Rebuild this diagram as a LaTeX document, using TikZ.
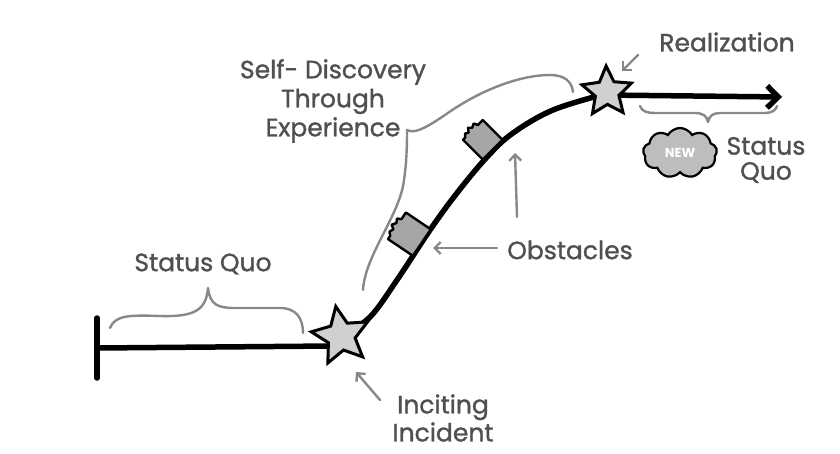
\documentclass[tikz,border=0pt]{standalone}
\usepackage{fontspec}
\setmainfont{Poppins}
\newfontfamily\handfont[FakeBold=1.2]{Poppins}
\usetikzlibrary{shapes.geometric,shapes.symbols,arrows.meta,calc}
\definecolor{annot}{HTML}{888888}
\definecolor{txt}{HTML}{505050}
\definecolor{starfill}{HTML}{D0D0D0}
\definecolor{obsfill}{HTML}{A6A6A6}
\definecolor{cloudfill}{HTML}{BDBDBD}
\begin{document}
\begin{tikzpicture}[x=1pt,y=-1pt,
 mainline/.style={line width=5.5pt,line cap=round,line join=round},
 annot/.style={draw=annot,line width=2.4pt,line cap=round,line join=round},
 garrow/.style={annot,-{Straight Barb[length=6pt,width=12pt]}},
 lbl/.style={text=txt,font=\handfont\fontsize{25}{28}\selectfont,align=center,inner sep=0pt},
 starnode/.style={star,star points=5,star point ratio=2.1,fill=starfill,draw=black,line width=3pt,minimum size=#1,inner sep=0pt},
 obstacle/.style={fill=obsfill,draw=black,line width=2.4pt,line join=round},
]
\useasboundingbox (0,0) rectangle (840,453);
\fill[white] (0,0) rectangle (840,453);

% fixed points
\coordinate (barTop) at (97,318);
\coordinate (barBot) at (97,378);
\coordinate (barMid) at (97,348);
\coordinate (lineL) at (332,346);
\coordinate (arrowStart) at (605,95);
\coordinate (arrowEnd) at (782,97);

% main timeline
\draw[mainline] (barTop) -- (barBot);
\draw[mainline] (barMid) -- (lineL);
\draw[mainline] plot[smooth,tension=0.6] coordinates {(343,335) (370,317) (397,280) (430,230) (457,193) (487,157) (513,133) (553,110) (605,94)};
\draw[mainline,-{Straight Barb[length=11pt,width=22pt]}] (arrowStart) -- (arrowEnd);

% obstacles
\begin{scope}[shift={(421,242)},rotate=56]
  \draw[obstacle] (-16,1) -- (16,1) -- (16,-29) -- (8,-29) -- (6,-33) -- (2,-31) -- (-2,-34) -- (-5,-30) -- (-9,-32) -- (-12,-29) -- (-16,-29) -- cycle;
\end{scope}
\begin{scope}[shift={(492,149)},rotate=45]
  \draw[obstacle] (-14,1) -- (14,1) -- (14,-27) -- (7,-27) -- (5,-31) -- (1,-29) -- (-2,-32) -- (-5,-28) -- (-8,-30) -- (-11,-27) -- (-14,-27) -- cycle;
\end{scope}

% stars
\node[starnode=60pt,rotate=10] (s1) at (341,336) {};
\node[starnode=52pt,rotate=2] (s2) at (607,92) {};

% cloud
\node[cloud,cloud puffs=9,cloud puff arc=120,aspect=1.5,minimum width=74pt,minimum height=50pt,
      fill=cloudfill,draw=black,line width=2.2pt,text=white,inner sep=0pt,
      font=\bfseries\fontsize{13}{14}\selectfont] (cloud) at (680,153) {NEW};

% labels
\node[lbl] (real) at (727,42) {Realization};
\node[lbl,font=\handfont\fontsize{25}{25}\selectfont] (sqR) at (766,160) {Status\\Quo};
\node[lbl] (obs) at (570,250) {Obstacles};
\node[lbl,font=\handfont\fontsize{25}{29}\selectfont] (self) at (333,101) {Self- Discovery\\Through\\Experience};
\node[lbl] (inc) at (443,418) {Inciting\\Incident};
\node[lbl] (sqL) at (203,264) {Status Quo};

% annotation arrows
\coordinate (realTip) at (622,71);
\coordinate (obsTipL) at (433,248);
\coordinate (obsTipU) at (515,153);
\coordinate (incTip) at (356,372);
\coordinate (realFrom) at (638,55);
\coordinate (obsFromL) at (497,248);
\coordinate (obsFromU) at (517,217);
\coordinate (incFrom) at (380,400);
\draw[garrow] (realFrom) -- (realTip);
\draw[garrow] (obsFromL) -- (obsTipL);
\draw[garrow] (obsFromU) -- (obsTipU);
\draw[garrow] (incFrom) -- (incTip);

% braces
\draw[annot] (110,328) .. controls (115,315) and (130,315) .. (160,316)
  .. controls (195,317) and (206,310) .. (208,288)
  .. controls (210,305) and (218,308) .. (235,308) -- (280,308)
  .. controls (296,308) and (303,318) .. (303,333);
\draw[annot] (363,290) .. controls (365,255) and (400,215) .. (404,180)
  .. controls (407,160) and (407,140) .. (407,130)
  .. controls (415,135) and (430,125) .. (445,115)
  .. controls (480,90) and (520,75) .. (550,75)
  .. controls (565,75) and (572,82) .. (573,92);
\draw[annot] (640,106) .. controls (642,112) and (648,113) .. (655,113) -- (695,113)
  .. controls (703,113) and (707,116) .. (708,122)
  .. controls (709,116) and (713,113) .. (720,113) -- (765,113)
  .. controls (772,113) and (776,110) .. (777,106);
\end{tikzpicture}
\end{document}
